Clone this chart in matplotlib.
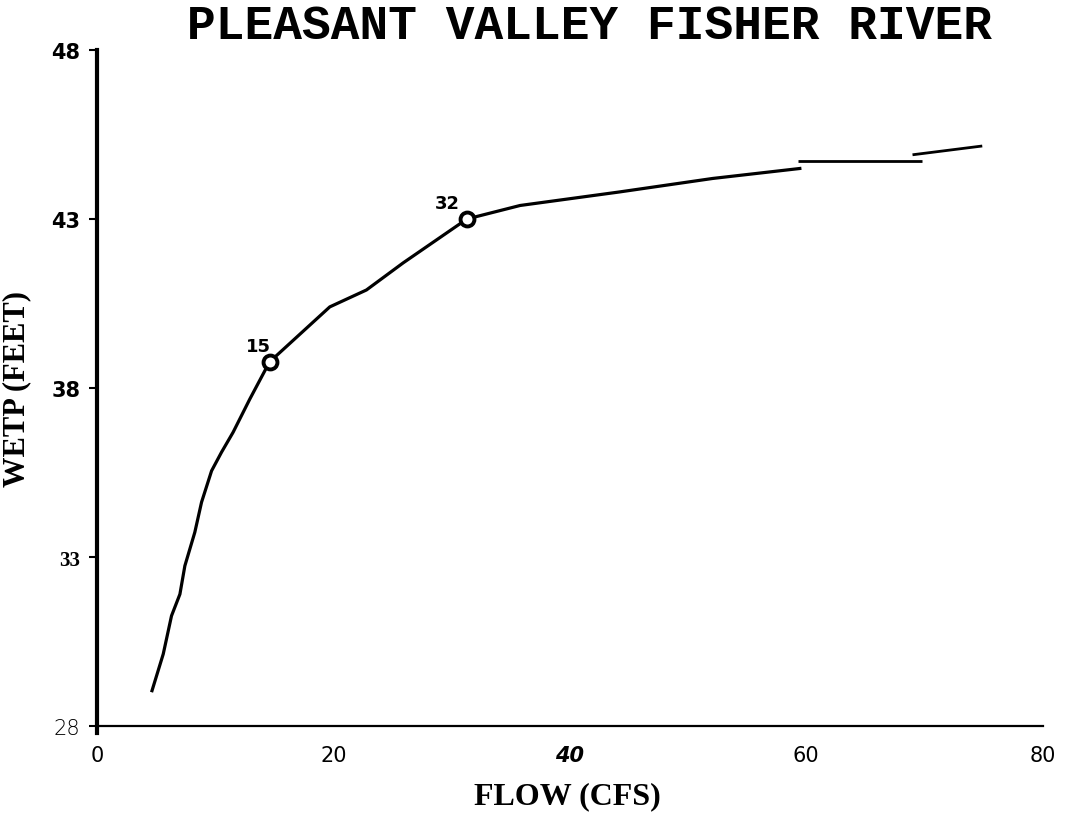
import numpy as np
import matplotlib as mpl
mpl.use('Agg')
import matplotlib.pyplot as plt

flow_1 = [4.62, 5.61, 6.31, 7.02, 7.44, 8.28, 8.85, 9.7, 10.54, 11.52, 12.93, 14.6,
          19.7, 22.8, 25.9, 31.3, 35.8, 44.2, 52.1, 59.6]
wetp_1 = [29.0, 30.13, 31.26, 31.9, 32.74, 33.73, 34.62, 35.55, 36.1, 36.69, 37.67, 38.77,
          40.4, 40.9, 41.7, 43.0, 43.4, 43.8, 44.2, 44.5]
flow_2 = [59.3, 69.8]
wetp_2 = [44.72, 44.72]
flow_3 = [69.0, 74.9]
wetp_3 = [44.9, 45.16]

# labelled points
pt_flow = [14.6, 31.3]
pt_wetp = [38.77, 43.0]
pt_text = ['15', '32']
pt_offs = [(-8, 11.5), (-14, 11.5)]

xticks = [0, 20, 40, 60, 80]
yticks = [28, 33, 38, 43, 48]

fig = plt.figure(figsize=(10.77, 8.2), dpi=100)
ax = fig.add_axes([0.090, 0.1134, 0.878, 0.8244])

ax.plot(flow_1, wetp_1, color='black', lw=2.3, solid_capstyle='butt')
ax.plot(flow_2, wetp_2, color='black', lw=2.0, solid_capstyle='butt')
ax.plot(flow_3, wetp_3, color='black', lw=2.0, solid_capstyle='butt')
ax.plot(pt_flow, pt_wetp, 'o', mfc='white', mec='black', ms=10, mew=2.8)
for fx, fy, t, off in zip(pt_flow, pt_wetp, pt_text, pt_offs):
    ax.annotate(t, (fx, fy), xytext=off, textcoords='offset points',
                fontsize=13, fontweight='bold', family='DejaVu Sans', ha='center', va='center')

ax.set_xlim(0, 80)
ax.set_ylim(28, 48)
ax.spines['top'].set_visible(False)
ax.spines['right'].set_visible(False)
ax.spines['left'].set_linewidth(3.0)
ax.spines['left'].set_bounds(27.8, 48)
ax.spines['bottom'].set_linewidth(1.6)

ax.set_xticks(xticks)
ax.set_yticks(yticks)
ax.tick_params(axis='x', length=0, pad=14, labelsize=15)
ax.tick_params(axis='y', length=6, width=1.5, pad=6, labelsize=15)

ax.set_xticklabels([str(v) for v in xticks])
ax.set_yticklabels([str(v) for v in yticks])
xstyles = [('normal', 'normal'), ('normal', 'normal'), ('bold', 'italic'),
           ('normal', 'normal'), ('normal', 'normal')]
for lab, (w, s) in zip(ax.get_xticklabels(), xstyles):
    lab.set_fontweight(w)
    lab.set_fontstyle(s)
ystyles = ['light', 'bold', 'bold', 'bold', 'bold']
for lab, w in zip(ax.get_yticklabels(), ystyles):
    lab.set_fontweight(w)
ax.get_yticklabels()[1].set_family('Liberation Serif')

ax.set_xlabel('FLOW (CFS)', fontsize=23, fontweight='bold', family='Liberation Serif')
ax.xaxis.set_label_coords(0.497, -0.081)
ax.set_ylabel('WETP (FEET)', fontsize=22, fontweight='bold', family='Liberation Serif')
ax.yaxis.set_label_coords(-0.070, 0.50)

fig.text(0.547, 0.953, 'PLEASANT VALLEY FISHER RIVER', fontsize=34.5, fontweight='bold',
         family='Liberation Mono', ha='center', va='baseline')

fig.savefig('out.png', dpi=100)
